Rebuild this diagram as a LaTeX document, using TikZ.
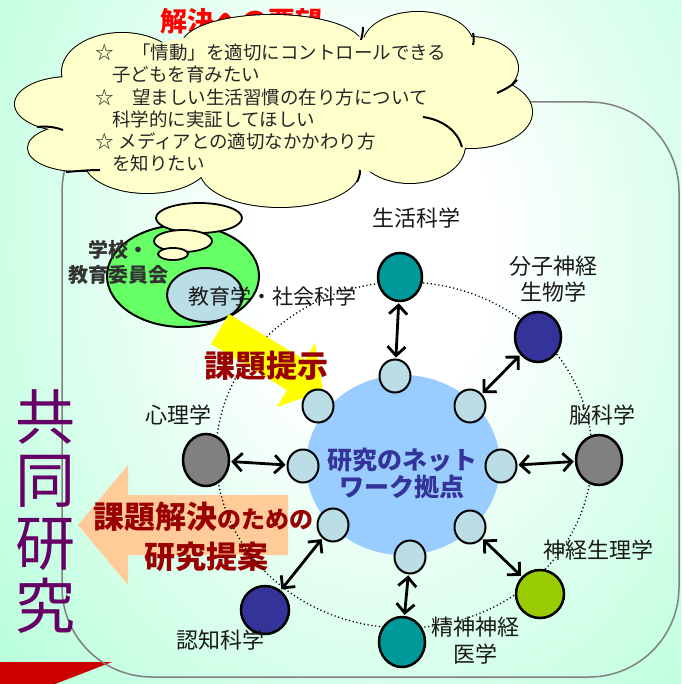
\documentclass[tikz,border=0pt]{standalone}
\usepackage{fontspec}
\setmainfont{Noto Sans CJK JP}
\usetikzlibrary{arrows.meta,shapes.geometric}
\definecolor{mint}{RGB}{153,255,204}
\definecolor{cloudy}{RGB}{255,255,204}
\definecolor{greenE}{RGB}{102,255,102}
\definecolor{lblue}{RGB}{187,222,230}
\definecolor{bigblue}{RGB}{153,204,255}
\definecolor{cteal}{RGB}{0,153,153}
\definecolor{cnavy}{RGB}{51,51,153}
\definecolor{cgray}{RGB}{128,128,128}
\definecolor{colive}{RGB}{153,204,0}
\definecolor{cdarkred}{RGB}{153,0,0}
\definecolor{csalmon}{RGB}{255,204,153}
\definecolor{cpurp}{RGB}{102,0,102}
\definecolor{cred}{RGB}{204,0,0}
\definecolor{cyell}{RGB}{255,255,0}
\pgfdeclareradialshading{bgsh}{\pgfpoint{0bp}{0bp}}{color(0bp)=(white); color(4bp)=(white); color(22bp)=(mint); color(50bp)=(mint)}
\newcommand\jfs[1]{\fontsize{#1}{#1}\selectfont}
\begin{document}
\begin{tikzpicture}[x=1pt,y=-1pt,
  outer/.style={ellipse, draw=black, line width=2.5pt, minimum width=46pt, minimum height=50pt, inner sep=0pt},
  innerc/.style={ellipse, draw=black, line width=2pt, fill=lblue, minimum width=31pt, minimum height=33pt, inner sep=0pt},
  lbl/.style={font=\jfs{22}, text=black!90, inner sep=0pt, align=center},
  link/.style={<->, >={Straight Barb[length=9pt,width=18pt]}, line width=2.8pt, shorten <=1pt, shorten >=1pt},
  cloudtxt/.style={font=\jfs{18.5}, text=black!85, anchor=west, inner sep=0pt},
  hook/.style={line width=2pt, draw=black}
]
\useasboundingbox (0,0) rectangle (681,684);
\begin{scope}
  \clip (0,0) rectangle (681,684);
  \shade[shading=bgsh] (375,255) ellipse [x radius=740, y radius=960];
\end{scope}
% red corner shape
\fill[cred] (0,662) -- (112,662) -- (55,684) -- (0,684) -- cycle;
% rounded frame
\draw[cgray, line width=1.5pt, rounded corners=90pt] (62,102) rectangle (679,677);
% title behind cloud
\node[font=\jfs{27}\bfseries, text=red, inner sep=0pt] (title) at (241,21) {解決への要望};
% cloud
\foreach \cx/\cy/\rx/\ry in {122/72/60/39, 272/45/90/30, 418/45/55/33, 470/68/48/31, 470/112/62/36, 410/145/55/38, 280/170/80/37, 147/160/63/33, 78/148/50/23, 70/104/55/27}
  \draw[black, line width=2pt] (\cx,\cy) ellipse [x radius=\rx, y radius=\ry];
\foreach \cx/\cy/\rx/\ry in {122/72/60/39, 272/45/90/30, 418/45/55/33, 470/68/48/31, 470/112/62/36, 410/145/55/38, 280/170/80/37, 147/160/63/33, 78/148/50/23, 70/104/55/27}
  \fill[cloudy] (\cx,\cy) ellipse [x radius=\rx, y radius=\ry];
\fill[cloudy] (275,105) ellipse [x radius=205, y radius=75];
% inner hooks of the cloud
\draw[hook] (423,117) .. controls (444,120) and (458,132) .. (462,147);
\draw[hook] (497,93) .. controls (506,89) and (513,85) .. (517,80);
\draw[hook] (37,127) .. controls (47,126) and (55,127) .. (63,130);
\draw[hook] (66,172) .. controls (78,171) and (90,170) .. (100,170);
\draw[hook] (363,27) .. controls (363,32) and (362,36) .. (361,40);
\draw[hook] (473,33) .. controls (474,37) and (474,41) .. (473,45);
\draw[hook] (360,170) .. controls (360,174) and (359,178) .. (357,182);
% cloud text
\node[cloudtxt] (c1) at (95,52) {☆　「情動」を適切にコントロールできる};
\node[cloudtxt] (c2) at (112,74) {子どもを育みたい};
\node[cloudtxt] (c3) at (95,97) {☆　望ましい生活習慣の在り方について};
\node[cloudtxt] (c4) at (112,119) {科学的に実証してほしい};
\node[cloudtxt] (c5) at (95,141) {☆\hspace{5pt}メディアとの適切なかかわり方};
\node[cloudtxt] (c6) at (112,163) {を知りたい};
% salmon arrow
\fill[csalmon] (78,525) -- (128,465) -- (128,495) -- (288,495) -- (288,555) -- (128,555) -- (128,585) -- cycle;
\node[font=\jfs{31}\bfseries, text=cdarkred, anchor=west, inner sep=0pt] (kt1) at (93,517) {課題解決{\jfs{24}\bfseries のための}};
\node[font=\jfs{31}\bfseries, text=cdarkred, inner sep=0pt] (kt2) at (206,557) {研究提案};
% vertical title
\node[font=\fontsize{60}{63}\selectfont, text=cpurp, align=center, inner sep=0pt] (kyodo) at (45,512) {共\\同\\研\\究};
% dotted ring
\draw[line width=1.3pt, dash pattern=on 1.2pt off 2.6pt] (404,455) ellipse [x radius=188, y radius=173];
% hub
\fill[bigblue] (403,465) ellipse [x radius=97, y radius=90];
\node[font=\jfs{25}\bfseries, text=cnavy, align=center, inner sep=0pt] (hub) at (402,474) {研究のネット\\[2pt]ワーク拠点};
% school / education
\draw[line width=2pt, fill=greenE] (183,276) ellipse [x radius=76, y radius=51];
\draw[line width=1.8pt, fill=cloudy] (199,218) ellipse [x radius=43, y radius=15];
\draw[line width=1.8pt, fill=cloudy] (183,241) ellipse [x radius=29, y radius=11];
\draw[line width=1.8pt, fill=cloudy] (173,254) ellipse [x radius=15, y radius=6];
\node[ellipse, draw=black, line width=2pt, fill=lblue, minimum width=76pt, minimum height=54pt, inner sep=0pt] (edu) at (205,295) {};
\node[font=\jfs{20}\bfseries, text=black!80, align=center, inner sep=0pt] (school) at (118,262) {学校・\\[5pt]教育委員会};
\node[lbl, font=\jfs{21}, anchor=west] (edul) at (188,296) {教育学・社会科学};
% yellow arrow
\fill[cyell] (229,314) -- (305,360) -- (315,343) -- (323,391) -- (277,407) -- (287,390) -- (211,344) -- cycle;
\node[font=\jfs{31}\bfseries, text=cdarkred, inner sep=0pt] (teiji) at (266,366) {課題提示};
% outer nodes
\node[outer, fill=cteal, minimum width=44pt, minimum height=48pt] (s1) at (400,277) {};
\node[outer, fill=cnavy] (s2) at (538,337) {};
\node[outer, fill=cgray] (s3) at (599,460) {};
\node[outer, fill=colive, minimum width=48pt, minimum height=48pt] (s4) at (540,594) {};
\node[outer, fill=cteal] (s5) at (402,642) {};
\node[outer, fill=cnavy, minimum width=48pt, minimum height=48pt] (s6) at (265,610) {};
\node[outer, fill=cgray, minimum height=52pt] (s7) at (206,460) {};
% inner nodes
\node[innerc] (i1) at (395,376) {};
\node[innerc] (i2) at (470,406) {};
\node[innerc] (i3) at (501,466) {};
\node[innerc] (i4) at (470,527) {};
\node[innerc] (i5) at (410,557) {};
\node[innerc] (i6) at (333,525) {};
\node[innerc] (i7) at (303,466) {};
\node[innerc] (i8) at (318,406) {};
% links
\draw[link] (s1) -- (i1);
\draw[link] (s2) -- (i2);
\draw[link] (s3) -- (i3);
\draw[link] (s4) -- (i4);
\draw[link] (s5) -- (i5);
\draw[link] (s6) -- (i6);
\draw[link] (s7) -- (i7);
% labels
\node[lbl] (l1) at (416,218) {生活科学};
\node[lbl] (l2) at (553,279) {分子神経\\[4pt]生物学};
\node[lbl] (l3) at (602,415) {脳科学};
\node[lbl] (l4) at (598,550) {神経生理学};
\node[lbl] (l5) at (475,641) {精神神経\\[5pt]医学};
\node[lbl] (l6) at (220,640) {認知科学};
\node[lbl] (l7) at (178,415) {心理学};
\end{tikzpicture}
\end{document}
